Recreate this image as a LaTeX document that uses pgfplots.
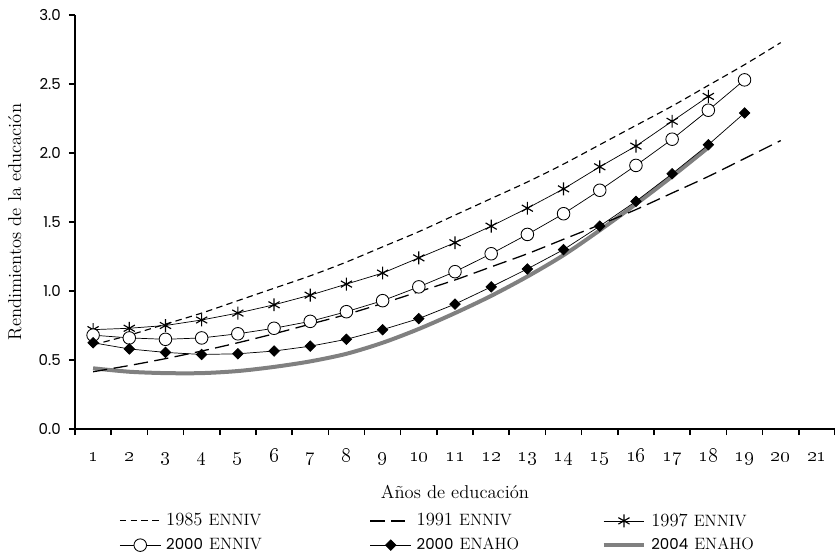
\documentclass[border=0pt]{standalone}
\usepackage{pgfplots}
\pgfplotsset{compat=1.18}
\font\ticksans="Poppins" at 10.5pt
\font\legsans="Poppins" at 10.5pt
\newcommand{\smcp}[1]{{\fontsize{11.5}{13}\selectfont #1}}
\begin{document}
\begin{tikzpicture}
\begin{axis}[
  at={(0,0)}, anchor=south west,
  scale only axis, width=532pt, height=289.8pt,
  font=\fontsize{13}{15}\selectfont,
  xmin=0.5, xmax=21.5, ymin=0, ymax=3,
  axis x line*=bottom, axis y line*=left,
  axis line style={line width=1.4pt},
  tick style={line width=1.1pt, black},
  tick align=outside, major tick length=4.2pt,
  xtick={0.5,1.5,...,21.5},
  xticklabels={\oldstylenums{1},\oldstylenums{2},\oldstylenums{3},\oldstylenums{4},\oldstylenums{5},\oldstylenums{6},\oldstylenums{7},\oldstylenums{8},\oldstylenums{9},\oldstylenums{10},\oldstylenums{11},\oldstylenums{12},\oldstylenums{13},\oldstylenums{14},\oldstylenums{15},\oldstylenums{16},\oldstylenums{17},\oldstylenums{18},\oldstylenums{19},\oldstylenums{20},\oldstylenums{21},{}},
  xticklabel style={font=\fontsize{14}{16}\selectfont, anchor=base, inner sep=0pt, xshift=12.67pt, yshift=-18.2pt},
  ytick={0,0.5,...,3},
  /pgf/number format/assume math mode=true,
  yticklabel style={font=\ticksans, anchor=east, inner sep=0pt, xshift=-5.6pt,
    /pgf/number format/.cd, fixed, fixed zerofill, precision=1},
  xlabel={Años de educación},
  xlabel style={at={(axis description cs:0.5,-0.152)}, anchor=center},
  ylabel={Rendimientos de la educación},
  ylabel style={at={(axis description cs:-0.079,0.5)}, anchor=center},
  legend columns=3,
  legend cell align=left,
  legend image code/.code={\draw[mark repeat=2,mark phase=2] plot coordinates {(0cm,0cm) (0.5cm,0cm) (1cm,0cm)};},
  legend style={draw=none, fill=none, at={(axis description cs:0.058,-0.2)}, anchor=north west,
    inner sep=0pt, nodes={inner xsep=3.5pt, inner ysep=1pt}, row sep=5pt,
    font=\fontsize{13}{15}\selectfont},
]
% 2004 ENAHO (drawn first, beneath the others)
\addplot[forget plot, smooth, draw={rgb,255:red,128;green,128;blue,128}, line width=2.8pt] coordinates {
 (1,0.44) (2,0.415) (3,0.405) (4,0.405) (5,0.42) (6,0.45) (7,0.49) (8,0.545) (9,0.625)
 (10,0.725) (11,0.84) (12,0.965) (13,1.105) (14,1.26) (15,1.44) (16,1.63) (17,1.83) (18,2.04)};
% 1985 ENNIV
\addplot[smooth, black, line width=0.8pt, dash pattern=on 4.5pt off 3pt] coordinates {
 (1,0.61) (2,0.68) (3,0.76) (4,0.84) (5,0.93) (6,1.02) (7,1.11) (8,1.21) (9,1.32) (10,1.43)
 (11,1.55) (12,1.67) (13,1.79) (14,1.92) (15,2.06) (16,2.20) (17,2.34) (18,2.49) (19,2.64) (20,2.80)};
\addlegendentry{\makebox[139pt][l]{1985 \smcp{ENNIV}}}
% 1991 ENNIV
\addplot[smooth, black, line width=0.9pt, dash pattern=on 10pt off 4.5pt] coordinates {
 (1,0.415) (2,0.46) (3,0.51) (4,0.565) (5,0.625) (6,0.69) (7,0.76) (8,0.83) (9,0.91) (10,0.995)
 (11,1.08) (12,1.175) (13,1.27) (14,1.375) (15,1.48) (16,1.59) (17,1.71) (18,1.83) (19,1.96) (20,2.09)};
\addlegendentry{\makebox[126pt][l]{1991 \smcp{ENNIV}}}
% 1997 ENNIV
\addplot[black, line width=0.5pt, mark=asterisk, mark size=4.5pt, mark options={line width=0.8pt}] coordinates {
 (1,0.72) (2,0.73) (3,0.75) (4,0.79) (5,0.84) (6,0.90) (7,0.97) (8,1.05) (9,1.13) (10,1.24)
 (11,1.35) (12,1.47) (13,1.60) (14,1.74) (15,1.90) (16,2.05) (17,2.23) (18,2.41)};
\addlegendentry{\makebox[126pt][l]{1997 \smcp{ENNIV}}}
% 2000 ENNIV
\addplot[black, line width=0.5pt, mark=*, mark size=4.4pt, mark options={fill=white, draw=black, line width=0.6pt}] coordinates {
 (1,0.68) (2,0.66) (3,0.65) (4,0.66) (5,0.69) (6,0.73) (7,0.78) (8,0.85) (9,0.93) (10,1.03)
 (11,1.14) (12,1.27) (13,1.41) (14,1.56) (15,1.73) (16,1.91) (17,2.10) (18,2.31) (19,2.53)};
\addlegendentry{\makebox[139pt][l]{{\legsans 2000} \smcp{ENNIV}}}
% 2000 ENAHO
\addplot[black, line width=0.5pt, mark=square*, mark size=2.6pt, mark options={rotate=45, fill=black}] coordinates {
 (1,0.625) (2,0.58) (3,0.555) (4,0.54) (5,0.545) (6,0.565) (7,0.60) (8,0.65) (9,0.72) (10,0.80)
 (11,0.905) (12,1.03) (13,1.16) (14,1.30) (15,1.47) (16,1.65) (17,1.85) (18,2.06) (19,2.29)};
\addlegendentry{\makebox[126pt][l]{{\legsans 2000} \smcp{ENAHO}}}
\addlegendimage{draw={rgb,255:red,128;green,128;blue,128}, line width=2.8pt}
\addlegendentry{\makebox[126pt][l]{{\legsans 2004} \smcp{ENAHO}}}
\end{axis}
\pgfresetboundingbox
\useasboundingbox (-52.5pt,-88.9pt) rectangle (532pt,300.3pt);
\end{tikzpicture}
\end{document}
